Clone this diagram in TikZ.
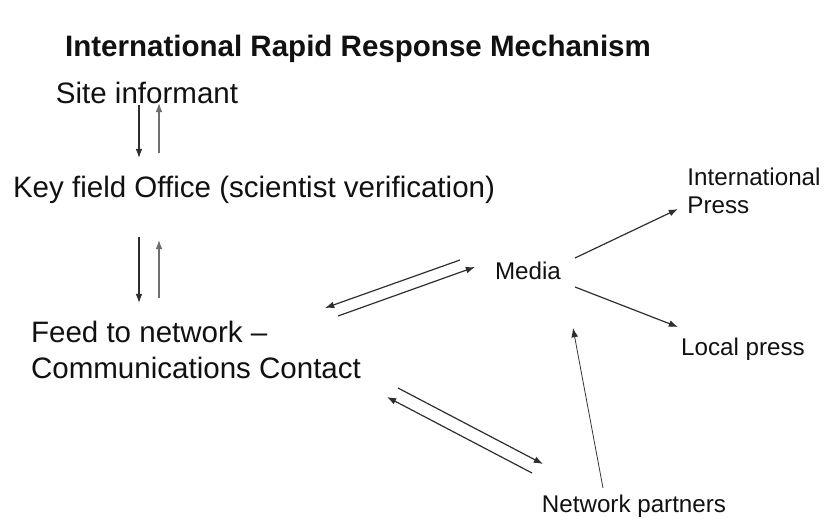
\documentclass[tikz,border=0pt]{standalone}
\usepackage{fontspec}
\setsansfont{Liberation Sans}
\usepackage{xcolor}
\usetikzlibrary{arrows.meta,calc,positioning}
\definecolor{flowDark}{HTML}{2E2E2E}
\definecolor{flowLight}{HTML}{6E6E6E}
\definecolor{textDark}{HTML}{111111}
\tikzset{
  font=\sffamily,
  arrow/.style={-{Latex[length=2.3mm,width=1.7mm]}, draw=flowDark, line width=0.85pt},
  backarrow/.style={-{Latex[length=2.3mm,width=1.7mm]}, draw=flowLight, line width=0.85pt},
  thinarrow/.style={-{Latex[length=2.3mm,width=1.7mm]}, draw=flowDark, line width=0.55pt},
  title/.style={font=\sffamily\bfseries\fontsize{21}{25}\selectfont, text=textDark, inner sep=0pt},
  station/.style={font=\sffamily\fontsize{21}{25}\selectfont, text=textDark, align=left, inner sep=0pt},
  smallLabel/.style={font=\sffamily\fontsize{17.2}{20}\selectfont, text=textDark, align=left, inner sep=0pt}
}
\begin{document}
\begin{tikzpicture}[x=0.025cm,y=-0.025cm]
\useasboundingbox (0,0) rectangle (827,518);

% --------------------------------------------------------------------------
% Chain of contacts
% --------------------------------------------------------------------------
\node[title] (title) at (358,49) {International Rapid Response Mechanism};

\node[station] (site) at (147,93) {Site informant};
\node[station] (key) at (254,190) {Key field Office (scientist verification)};
\node[station] (feed) at (196,350) {Feed to network --\\Communications Contact};

\draw[arrow] ($(site)+(-8,12)$) -- ($(key)+(-115,-32)$);
\draw[backarrow] ($(key)+(-95,-37)$) -- ($(site)+(12,10)$);
\draw[arrow] ($(key)+(-115,47)$) -- ($(feed)+(-57,-47)$);
\draw[backarrow] ($(feed)+(-37,-52)$) -- ($(key)+(-95,50)$);

% --------------------------------------------------------------------------
% Media and partners
% --------------------------------------------------------------------------
\node[smallLabel] (media) at (528,271) {Media};
\node[smallLabel] (intl) at (754,191) {International\\Press};
\node[smallLabel] (local) at (743,349) {Local press};
\node[smallLabel] (network) at (634,506) {Network partners};

\draw[arrow] ($(media)+(-68,-11)$) -- ($(feed)+(129,-42)$);
\draw[arrow] ($(feed)+(142,-34)$) -- ($(media)+(-53,-4)$);
\draw[arrow] ($(feed)+(202,38)$) -- ($(network)+(-91,-42)$);
\draw[arrow] ($(network)+(-102,-33)$) -- ($(feed)+(191,47)$);

\draw[arrow] ($(media)+(47,-13)$) -- ($(intl)+(-76,18)$);
\draw[arrow] ($(media)+(47,16)$) -- ($(local)+(-65,-22)$);
\draw[thinarrow] ($(network)+(-31,-18)$) -- ($(media)+(45,57)$);

\end{tikzpicture}
\end{document}
